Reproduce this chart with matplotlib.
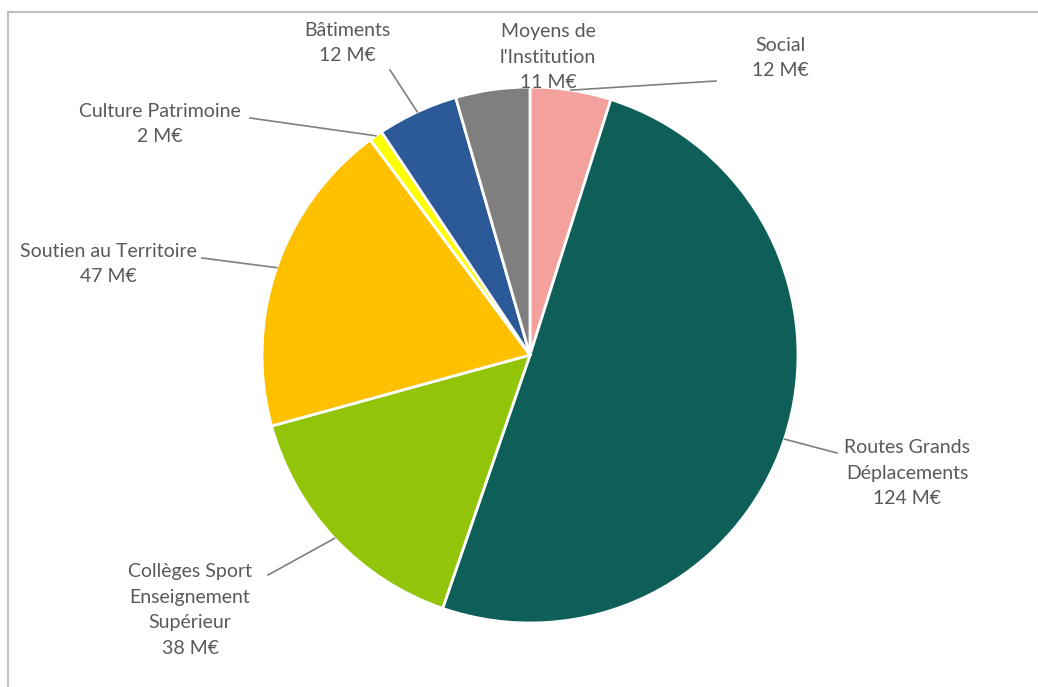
import numpy as np
import matplotlib
matplotlib.use('Agg')
import matplotlib.pyplot as plt
from matplotlib.lines import Line2D

# --- données ---
postes = ["Social", "Routes Grands\nDéplacements", "Collèges Sport\nEnseignement\nSupérieur",
          "Soutien au Territoire", "Culture Patrimoine", "Bâtiments", "Moyens de\nl'Institution"]
montants = [12, 124, 38, 47, 2, 12, 11]
couleurs = ["#F4A19E", "#0D5F58", "#92C50A", "#FFC000", "#FFFF00", "#2C5A98", "#7F7F7F"]

# positions des étiquettes (pixels) et extrémité du trait de rappel
W, H = 1038, 687
CX, CY, R = 530, 355, 268
pos_texte = [(780, 58), (907, 473), (190, 610), (108, 264), (160, 124), (347, 43), (548, 57)]
bout_trait = [(716, 81), (837, 453), (268, 575), (202, 258), (250, 118), (390, 70), None]


def px(p):
    return ((p[0] - CX) / R, (CY - p[1]) / R)


fig = plt.figure(figsize=(W / 100, H / 100), dpi=100)
ax = fig.add_axes([0, 0, 1, 1])

wedges, _ = ax.pie(montants, colors=couleurs, startangle=90, counterclock=False,
                   radius=1, wedgeprops=dict(edgecolor='white', linewidth=2))
# pie() impose ses propres limites : on les remet après
ax.set_xlim(-CX / R, (W - CX) / R)
ax.set_ylim(-(H - CY) / R, CY / R)
ax.set_aspect('auto')
ax.axis('off')

for w, nom, val, pt, bt in zip(wedges, postes, montants, pos_texte, bout_trait):
    tx, ty = px(pt)
    ax.text(tx, ty, f"{nom}\n{val} M€", ha='center', va='center', fontsize=14,
            color='#595959', family='Lato', linespacing=1.6)
    if bt is not None:
        a = np.radians((w.theta1 + w.theta2) / 2)
        x0, y0 = np.cos(a), np.sin(a)
        x1, y1 = px(bt)
        ax.plot([x0, x1], [y0, y1], color='#7F7F7F', lw=1.2)

# bordure de la capture
fig.add_artist(Line2D([8 / W, 1], [1 - 12 / H, 1 - 12 / H], color='#BFBFBF', lw=1.5))
fig.add_artist(Line2D([8 / W, 8 / W], [0, 1 - 12 / H], color='#BFBFBF', lw=1.5))

fig.savefig('out.png', dpi=100)
